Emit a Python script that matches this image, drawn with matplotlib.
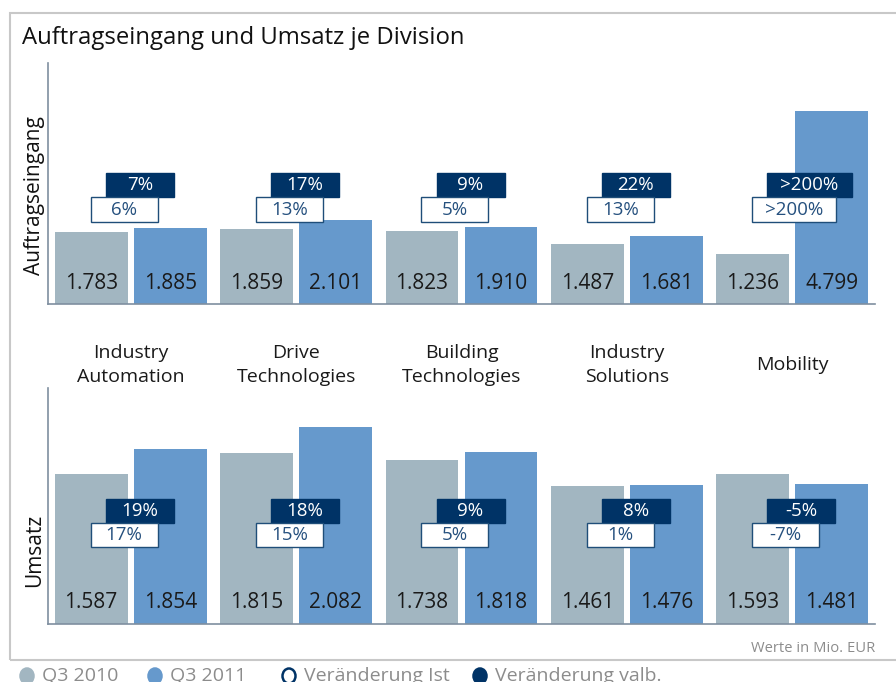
import numpy as np
import matplotlib
matplotlib.use("Agg")
import matplotlib.pyplot as plt
import matplotlib.transforms as mtransforms
from matplotlib.patches import Rectangle, Ellipse

plt.rcParams['font.family'] = ['Open Sans', 'DejaVu Sans']

# data
divisions = ['Industry\nAutomation', 'Drive\nTechnologies', 'Building\nTechnologies',
             'Industry\nSolutions', 'Mobility']
orders_2010 = [1.783, 1.859, 1.823, 1.487, 1.236]
orders_2011 = [1.885, 2.101, 1.910, 1.681, 4.799]
orders_ist = ['6%', '13%', '5%', '13%', '>200%']
orders_valb = ['7%', '17%', '9%', '22%', '>200%']
sales_2010 = [1.587, 1.815, 1.738, 1.461, 1.593]
sales_2011 = [1.854, 2.082, 1.818, 1.476, 1.481]
sales_ist = ['17%', '15%', '5%', '1%', '-7%']
sales_valb = ['19%', '18%', '9%', '8%', '-5%']

c_2010 = '#a2b6c1'
c_2011 = '#6699cc'
c_navy = '#003366'
c_spine = '#7f8fa0'

W, H = 896, 682
fig = plt.figure(figsize=(W / 100, H / 100), dpi=100)


def px_axes(left, top, right, bottom):
    return fig.add_axes([left / W, 1 - bottom / H, (right - left) / W, (bottom - top) / H])


def fmt(v):
    return '{:.3f}'.format(v)


def draw_panel(ax, v10, v11, ist, valb, ymax, ylab, ylab_y, val_y, box_y):
    x = np.arange(len(v10))
    ax.bar(x - 0.239, v10, 0.44, color=c_2010)
    ax.bar(x + 0.239, v11, 0.44, color=c_2011)
    ax.set_xlim(-0.5, 4.5)
    ax.set_ylim(0, ymax)
    ax.set_xticks([])
    ax.set_yticks([])
    for s in ['top', 'right']:
        ax.spines[s].set_visible(False)
    for s in ['left', 'bottom']:
        ax.spines[s].set_color(c_spine)
        ax.spines[s].set_linewidth(1.2)
    ax.text(-0.016, ylab_y, ylab, transform=ax.transAxes, rotation=90, ha='center',
            va='center', fontsize=15, color='#111111')
    trans = mtransforms.blended_transform_factory(ax.transData, ax.transAxes)
    for i in range(len(v10)):
        ax.text(i - 0.239, val_y, fmt(v10[i]), transform=trans, ha='center', va='center',
                fontsize=15, color='#1a1a1a')
        ax.text(i + 0.239, val_y, fmt(v11[i]), transform=trans, ha='center', va='center',
                fontsize=15, color='#1a1a1a')
        extra = 0.1 if len(valb[i]) > 4 else 0.0
        y0, h = box_y
        # dark box (valb)
        ax.add_patch(Rectangle((i - 0.151, y0 + h), 0.411 + extra, h, transform=trans,
                               facecolor=c_navy, edgecolor=c_navy, lw=1, zorder=3))
        ax.text(i - 0.151 + (0.411 + extra) / 2, y0 + 1.5 * h, valb[i], transform=trans,
                ha='center', va='center', fontsize=13.5, color='white', zorder=4)
        # white box (ist)
        ax.add_patch(Rectangle((i - 0.242, y0), 0.405 + extra, h, transform=trans,
                               facecolor='white', edgecolor='#1f4e79', lw=1, zorder=3))
        ax.text(i - 0.242 + (0.405 + extra) / 2, y0 + 0.5 * h, ist[i], transform=trans,
                ha='center', va='center', fontsize=13.5, color='#25507e', zorder=4)
    return trans


ax1 = px_axes(48, 63, 875, 304)
trans1 = draw_panel(ax1, orders_2010, orders_2011, orders_ist, orders_valb, 6.0,
                    'Auftragseingang', 0.452, 0.087, (0.340, 0.102))
ax2 = px_axes(48, 388, 875, 624)
draw_panel(ax2, sales_2010, sales_2011, sales_ist, sales_valb, 2.5,
           'Umsatz', 0.31, 0.093, (0.326, 0.102))

for i, name in enumerate(divisions):
    ax1.text(i, -0.253, name, transform=trans1, ha='center', va='center',
             fontsize=14, color='#1a1a1a', linespacing=1.4)

# frame and title
fig.patches.append(Rectangle((10 / W, 1 - 660 / H), 900 / W, 647 / H, transform=fig.transFigure,
                             facecolor='none', edgecolor='#c8c8c8', lw=1.5))
fig.text(22 / W, 1 - 38 / H, 'Auftragseingang und Umsatz je Division', fontsize=17.2,
         color='#111111', ha='left', va='center')
fig.text(875 / W, 1 - 648 / H, 'Werte in Mio. EUR', fontsize=10.6, color='#8c8c8c',
         ha='right', va='center')

# legend along the bottom edge
legend_items = [('Q3 2010', c_2010, c_2010), ('Q3 2011', c_2011, c_2011),
                ('Veränderung Ist', 'white', c_navy), ('Veränderung valb.', c_navy, c_navy)]
legend_x = [27, 155, 289, 480]
for (lab, fc, ec), lx in zip(legend_items, legend_x):
    fig.patches.append(Ellipse((lx / W, 1 - 676 / H), 13 / W, 15 / H,
                               transform=fig.transFigure, facecolor=fc,
                               edgecolor=ec, lw=1.8))
    fig.text((lx + 15) / W, 1 - 676 / H, lab, fontsize=14, color='#8c8c8c',
             ha='left', va='center')

fig.savefig('out.png', dpi=100)
